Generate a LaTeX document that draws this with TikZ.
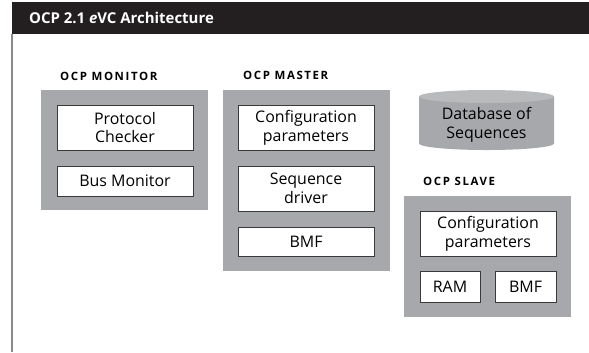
\documentclass[tikz,border=0pt]{standalone}
\usepackage{fontspec}
\setmainfont{Open Sans}
\usetikzlibrary{positioning}
\definecolor{panelgray}{HTML}{A7A8AB}
\definecolor{capgray}{HTML}{B9BABC}
\definecolor{titleblack}{HTML}{231F20}
\definecolor{boxline}{HTML}{3A3A3A}
\definecolor{rulegray}{HTML}{8A8A8A}
\newcommand{\unitlabel}[1]{{\addfontfeatures{LetterSpace=14}#1}}

\begin{document}
\begin{tikzpicture}[
    x = 1bp, y = -1bp,
    panel/.style = {fill=panelgray, minimum width=167bp, inner sep=0pt},
    box/.style = {draw=boxline, line width=0.7pt, fill=white, inner sep=0pt,
        align=center, minimum width=136bp, font=\fontsize{16}{19}\selectfont},
    unit/.style = {anchor=west, inner sep=0pt, font=\fontsize{11.5}{12}\selectfont\bfseries}
  ]
  \useasboundingbox (0,0) rectangle (589,352);

  % title bar and frame
  \fill[titleblack] (12,2) rectangle (589,34);
  \node[anchor=west, text=white, inner sep=0pt, font=\fontsize{15}{18}\selectfont\bfseries]
    (TITLE) at (29,18) {OCP 2.1 \textit{e}VC Architecture};
  \draw[rulegray, line width=1.6pt] (12,34) -- (12,352);

  % monitor
  \node[unit] (MONL) at (60,76) {\unitlabel{OCP MONITOR}};
  \node[panel, minimum height=120bp] (MON) at (124.5,150) {};
  \node[box, minimum height=45bp] (PC) at (125,127.5) {Protocol\\Checker};
  \node[box, minimum height=30bp] (BUSMON) at (125,181) {Bus Monitor};

  % master
  \node[unit] (MASL) at (243,75) {\unitlabel{OCP MASTER}};
  \node[panel, minimum height=181bp] (MAS) at (306.5,180.5) {};
  \node[box, minimum height=45bp] (MCFG) at (306,127.5) {Configuration\\parameters};
  \node[box, minimum height=45bp] (SEQ) at (306,188.5) {Sequence\\driver};
  \node[box, minimum height=29bp] (MBMF) at (306,241.5) {BMF};

  % database
  \fill[panelgray] (419,96.5) -- (419,143.5) arc[start angle=180, end angle=360,
    x radius=67.5, y radius=-6.5] -- (554,96.5) -- cycle;
  \fill[capgray] (486.5,96.5) ellipse[x radius=67.5, y radius=6.5];
  \node[align=center, inner sep=0pt, font=\fontsize{16}{19}\selectfont]
    (DB) at (486.5,125) {Database of\\Sequences};

  % slave
  \node[unit] (SLVL) at (423,181) {\unitlabel{OCP SLAVE}};
  \node[panel, minimum height=121bp] (SLV) at (487.5,256.5) {};
  \node[box, minimum height=45bp] (SCFG) at (488,233.5) {Configuration\\parameters};
  \node[box, minimum width=60bp, minimum height=31bp] (RAM) at (450,286.5) {RAM};
  \node[box, minimum width=61bp, minimum height=31bp] (SBMF) at (525.5,286.5) {BMF};
\end{tikzpicture}
\end{document}
